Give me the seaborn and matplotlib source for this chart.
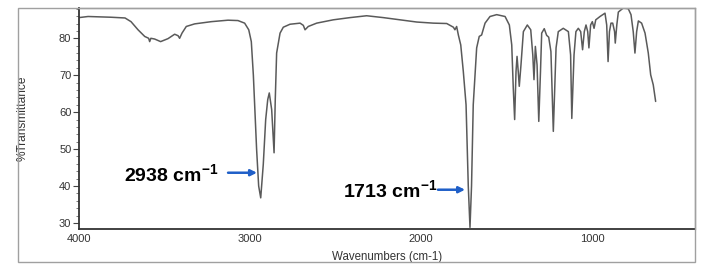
import matplotlib
matplotlib.use("Agg")
import matplotlib.pyplot as plt
from matplotlib.ticker import MultipleLocator
from matplotlib.patches import Rectangle
import seaborn as sns
import pandas as pd

# ---- data ----
wavenumber = [
    4000, 3947, 3813, 3731, 3696, 3655, 3616, 3593, 3587, 3580, 3558, 3523,
    3480, 3441, 3421, 3412, 3398, 3373, 3324, 3227, 3129, 3071, 3032, 3008,
    2993, 2981, 2962, 2950, 2938, 2923, 2909, 2897, 2888, 2874, 2860, 2853,
    2845, 2825, 2806, 2767, 2708, 2689, 2679, 2660, 2611, 2514, 2416, 2319,
    2222, 2124, 2026, 1929, 1851, 1812, 1803, 1793, 1783, 1769, 1754, 1738,
    1725, 1715, 1706, 1696, 1676, 1661, 1647, 1627, 1598, 1559, 1510, 1485,
    1471, 1462, 1454, 1446, 1440, 1433, 1427, 1417, 1403, 1380, 1360, 1348,
    1341, 1333, 1323, 1313, 1303, 1296, 1281, 1267, 1255, 1242, 1228, 1212,
    1199, 1170, 1140, 1127, 1120, 1107, 1096, 1082, 1068, 1057, 1047, 1037,
    1027, 1020, 1010, 1000, 990, 980, 955, 926, 916, 908, 900, 891, 881, 870,
    866, 857, 848, 819, 790, 774, 761, 751, 741, 731, 712, 692, 673, 659, 644,
    630,
]
transmittance = [
    85.6, 85.9, 85.7, 85.5, 84.5, 82.3, 80.5, 80.0, 79.1, 80.0, 79.8, 79.1,
    79.9, 81.1, 80.7, 80.0, 81.4, 83.2, 83.9, 84.5, 84.9, 84.8, 84.1, 82.3,
    79.1, 70.0, 49.9, 40.0, 36.8, 45.9, 58.0, 63.4, 65.2, 60.7, 49.0, 63.4,
    76.0, 81.4, 83.0, 83.8, 84.1, 83.5, 82.3, 83.2, 84.1, 85.0, 85.6, 86.1,
    85.6, 85.0, 84.4, 84.1, 84.0, 83.0, 82.3, 83.2, 80.9, 78.2, 71.0, 62.0,
    40.0, 28.8, 40.0, 62.0, 77.4, 80.5, 80.9, 84.1, 85.9, 86.4, 85.9, 83.6,
    78.2, 66.5, 58.0, 71.0, 75.1, 71.0, 67.0, 72.8, 81.8, 83.6, 82.3, 75.5,
    68.8, 77.8, 72.8, 57.5, 71.0, 81.4, 82.6, 80.8, 80.3, 76.4, 54.8, 77.4,
    81.8, 82.7, 81.8, 75.5, 58.3, 75.5, 81.8, 82.7, 81.8, 76.9, 81.8, 83.6,
    81.8, 77.4, 83.6, 84.5, 82.7, 85.0, 85.9, 86.8, 83.6, 73.7, 81.8, 84.1,
    84.1, 81.8, 78.7, 83.6, 87.1, 88.2, 88.0, 86.4, 81.8, 76.0, 81.8, 84.7,
    84.1, 81.4, 76.0, 70.1, 67.4, 62.9,
]
x_ticks = [4000, 3000, 2000, 1000]
y_ticks = [30, 40, 50, 60, 70, 80]
peak_labels = ["2938 cm$^{-1}$", "1713 cm$^{-1}$"]
# text anchor (right edge) and arrow start/end, in data units
label_pos = [(3188, 43.2), (1905, 38.8)]
arrow_from = [(3129, 43.6), (1902, 39.0)]
arrow_to = [(2960, 43.6), (1744, 39.0)]

df = pd.DataFrame({"Wavenumbers": wavenumber, "T": transmittance})

sns.set_style("white")
plt.rcParams["font.family"] = ["Liberation Sans", "DejaVu Sans"]
plt.rcParams["mathtext.fontset"] = "custom"
plt.rcParams["mathtext.rm"] = "Liberation Sans:bold"
plt.rcParams["mathtext.it"] = "Liberation Sans:bold"
plt.rcParams["mathtext.bf"] = "Liberation Sans:bold"

W, H = 719, 272
fig = plt.figure(figsize=(W / 100, H / 100), dpi=100)
fig.patch.set_facecolor("white")

# outer frame
fig.patches.append(Rectangle((18 / W, (H - 262) / H), 677 / W, 254 / H,
                             transform=fig.transFigure, fill=False,
                             edgecolor="#a0a0a0", linewidth=1.0))

ax = fig.add_axes([79 / W, (H - 228.5) / H, 616 / W, 220.5 / H])
sns.lineplot(data=df, x="Wavenumbers", y="T", sort=False, estimator=None,
             color="#5a5a5a", linewidth=1.1, ax=ax)

ax.set_xlim(4000, 400)
ax.set_ylim(28.5, 88.2)
ax.set_xticks(x_ticks)
ax.set_xticklabels([str(v) for v in x_ticks])
ax.set_yticks(y_ticks)
ax.yaxis.set_minor_locator(MultipleLocator(2))
ax.tick_params(axis="y", which="major", direction="out", length=4, width=0.8,
               color="#444444", labelsize=8, labelcolor="#333333", pad=1.5, left=True)
ax.tick_params(axis="y", which="minor", direction="out", length=2, width=0.6,
               color="#666666", left=True)
ax.tick_params(axis="x", which="major", direction="out", length=0,
               labelsize=8, labelcolor="#333333", pad=4, bottom=True)

for side in ["left", "bottom"]:
    ax.spines[side].set_color("#333333")
    ax.spines[side].set_linewidth(1.3)
for side in ["top", "right"]:
    ax.spines[side].set_color("#a0a0a0")
    ax.spines[side].set_linewidth(1.0)

ax.set_xlabel("Wavenumbers (cm-1)", fontsize=8.3, color="#333333", labelpad=5)
ax.set_ylabel("%Transmittance", fontsize=8.6, color="#333333", labelpad=5)
ax.yaxis.set_label_coords(-0.082, 0.5)

for lab, (tx, ty), a0, a1 in zip(peak_labels, label_pos, arrow_from, arrow_to):
    ax.text(tx, ty, lab, ha="right", va="center", fontsize=14,
            fontweight="bold", color="black")
    ax.annotate("", xy=a1, xytext=a0,
                arrowprops=dict(arrowstyle="-|>", color="#1f5fc8", lw=1.8,
                                mutation_scale=9, shrinkA=0, shrinkB=0))

fig.savefig("out.png", dpi=100, facecolor="white")
